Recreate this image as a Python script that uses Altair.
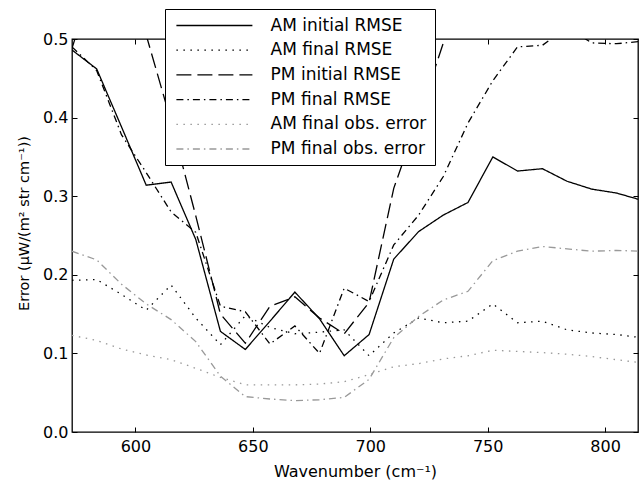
import altair as alt
import pandas as pd

# ---- data ----
wavenumber = [573.0, 583.5, 594.1, 604.6, 615.2, 625.7, 636.2, 646.8, 657.3, 667.9, 678.4, 688.9,
              699.5, 710.0, 720.6, 731.1, 741.6, 752.2, 762.7, 773.3, 783.8, 794.3, 804.9, 815.4]

am_initial_rmse = [0.486, 0.462, 0.388, 0.314, 0.318, 0.245, 0.128, 0.105, 0.141, 0.178, 0.144, 0.097,
                   0.124, 0.220, 0.255, 0.276, 0.292, 0.350, 0.332, 0.335, 0.319, 0.309, 0.304, 0.295]
am_final_rmse = [0.193, 0.194, 0.175, 0.155, 0.187, 0.145, 0.111, 0.148, 0.133, 0.125, 0.127, 0.130,
                 0.097, 0.126, 0.145, 0.139, 0.141, 0.163, 0.139, 0.141, 0.130, 0.126, 0.124, 0.120]
pm_initial_rmse = [0.488, 0.590, 0.620, 0.505, 0.395, 0.275, 0.150, 0.113, 0.160, 0.172, 0.145, 0.125,
                   0.165, 0.310, 0.400, 0.495, 0.580, 0.640, 0.660, 0.710, 0.690, 0.720, 0.700, 0.680]
pm_final_rmse = [0.490, 0.460, 0.378, 0.330, 0.280, 0.254, 0.160, 0.153, 0.112, 0.135, 0.100, 0.183,
                 0.166, 0.238, 0.276, 0.325, 0.393, 0.447, 0.490, 0.492, 0.515, 0.495, 0.494, 0.497]
am_final_obs_error = [0.123, 0.1165, 0.1055, 0.098, 0.092, 0.081, 0.0695, 0.060, 0.060, 0.060, 0.061, 0.064,
                      0.073, 0.083, 0.087, 0.093, 0.097, 0.104, 0.1025, 0.101, 0.099, 0.096, 0.092, 0.088]
pm_final_obs_error = [0.230, 0.219, 0.188, 0.163, 0.143, 0.115, 0.071, 0.045, 0.042, 0.040, 0.041, 0.044,
                      0.067, 0.120, 0.147, 0.168, 0.179, 0.218, 0.230, 0.236, 0.233, 0.230, 0.231, 0.230]

series_names = ["AM initial RMSE", "AM final RMSE", "PM initial RMSE",
                "PM final RMSE", "AM final obs. error", "PM final obs. error"]
series_values = [am_initial_rmse, am_final_rmse, pm_initial_rmse,
                 pm_final_rmse, am_final_obs_error, pm_final_obs_error]
series_colors = ["#000000", "#000000", "#000000", "#000000", "#999999", "#999999"]
series_dashes = [[1, 0], [1.5, 5.5], [15, 6], [7, 4, 1.5, 4], [1.5, 5.5], [7, 4, 1.5, 4]]

x_ticks = [600, 650, 700, 750, 800]
y_ticks = [0.0, 0.1, 0.2, 0.3, 0.4, 0.5]

rows = []
for name, vals in zip(series_names, series_values):
    for i, (xv, yv) in enumerate(zip(wavenumber, vals)):
        rows.append({"series": name, "x": xv, "y": yv, "idx": i})
df = pd.DataFrame(rows)

FONT = "DejaVu Sans"
xscale = alt.Scale(domain=[573, 814], nice=False, zero=False)
yscale = alt.Scale(domain=[0, 0.5], nice=False, zero=False)

legend = alt.Legend(
    title=None, orient="none", legendX=93, legendY=-30,
    symbolType="M-8,0H8", symbolSize=90.25, symbolStrokeWidth=1.3, symbolOffset=32.9,
    labelOffset=47.7, labelFont=FONT, labelFontSize=17, labelColor="black", labelLimit=400,
    rowPadding=6.7, padding=8, strokeColor="black", fillColor="white",
)

lines = alt.Chart(df).mark_line(clip=True, strokeWidth=1.3).encode(
    x=alt.X("x:Q", scale=xscale, axis=alt.Axis(
        orient="bottom", values=x_ticks, ticks=False, tickSize=0, domain=False, grid=False,
        labelFont=FONT, labelFontSize=16, labelColor="black", labelPadding=6,
        title="Wavenumber (cm⁻¹)", titleFont=FONT, titleFontSize=16, titleFontWeight="normal",
        titleColor="black", titleBaseline="alphabetic", titleY=44)),
    y=alt.Y("y:Q", scale=yscale, axis=alt.Axis(
        orient="left", values=y_ticks, format=".1f", ticks=False, tickSize=0, domain=False, grid=False,
        labelFont=FONT, labelFontSize=16, labelColor="black", labelPadding=4,
        title="Error (μW/(m² str cm⁻¹))", titleFont=FONT, titleFontSize=14.5, titleFontWeight="normal",
        titleColor="black", titleAngle=-90, titleAlign="center", titleBaseline="middle",
        titleX=-48, titleY=184)),
    color=alt.Color("series:N", scale=alt.Scale(domain=series_names, range=series_colors), legend=legend),
    strokeDash=alt.StrokeDash("series:N", scale=alt.Scale(domain=series_names, range=series_dashes), legend=legend),
    order=alt.Order("idx:Q"),
)

def tick_axis(orient, values):
    return alt.Axis(orient=orient, offset=-5, ticks=True, tickSize=5, tickWidth=1, tickColor="black",
                    labels=False, domain=False, grid=False, title=None, values=values)

ticks_bl = alt.Chart(df).mark_point(opacity=0).encode(
    x=alt.X("x:Q", scale=xscale, axis=tick_axis("bottom", x_ticks)),
    y=alt.Y("y:Q", scale=yscale, axis=tick_axis("left", y_ticks)),
)
ticks_tr = alt.Chart(df).mark_point(opacity=0).encode(
    x=alt.X("x:Q", scale=xscale, axis=tick_axis("top", x_ticks)),
    y=alt.Y("y:Q", scale=yscale, axis=tick_axis("right", y_ticks)),
)

chart = alt.layer(lines, ticks_bl, ticks_tr).resolve_axis(
    x="independent", y="independent"
).properties(
    width=566, height=393,
    autosize=alt.AutoSizeParams(type="none"),
    padding={"left": 72, "top": 39, "right": 2, "bottom": 51},
    background="white",
).configure_view(stroke="black", strokeWidth=1.3)

chart.save("out.html", embed_options={"renderer": "svg", "actions": False})
